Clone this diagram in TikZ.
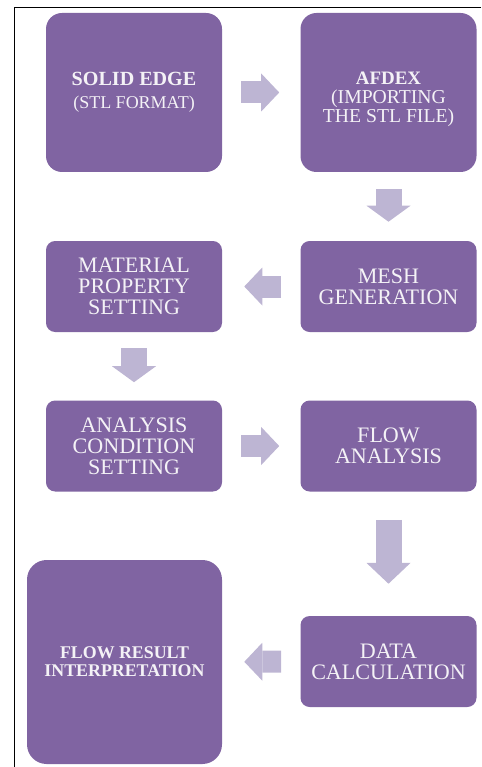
\documentclass[tikz,border=0pt]{standalone}
\usepackage{fontspec}
\setmainfont{Liberation Serif}
\usetikzlibrary{arrows.meta,positioning,calc}
\definecolor{boxpurple}{HTML}{8064A2}
\definecolor{arrlilac}{HTML}{BDB5D3}
\definecolor{boxtext}{HTML}{F4F2F6}

\begin{document}
\begin{tikzpicture}[
  proc/.style={fill=boxpurple, rounded corners=0.23cm, text=boxtext,
    minimum width=4.4cm, minimum height=2.275cm, inner sep=0pt,
    font=\fontsize{15.7}{14.9}\selectfont, align=center},
  arr/.style={draw=arrlilac, line width=0.55cm,
    -{Triangle[length=0.45cm, width=0.95cm, line width=0pt]}},
  varr/.style={draw=arrlilac, line width=0.65cm,
    -{Triangle[length=0.4cm, width=1.1cm, line width=0pt]}},
]
\useasboundingbox (0,0) rectangle (12.025,-19.175);

%% Frame
\draw[line width=1.1pt] (12.025,-0.1875) -- (0.3625,-0.1875) -- (0.3625,-19.175);

%% Row 1
\node[proc, minimum height=3.975cm, rounded corners=0.4cm,
  font=\fontsize{12.8}{15}\selectfont] (solid) at (3.35,-2.3125)
  {{\fontsize{14.3}{15}\selectfont\bfseries SOLID EDGE}\\[1pt] (STL FORMAT)};
\node[proc, minimum height=3.975cm, rounded corners=0.4cm,
  font=\fontsize{14}{13.6}\selectfont] (afdex) at (9.7125,-2.3125)
  {\rule{0pt}{19pt}{\fontsize{13.5}{13.6}\selectfont\bfseries AFDEX}\\(IMPORTING\\THE STL FILE)};

%% Row 2
\node[proc] (mesh) at (9.7125,-7.1625) {MESH\\GENERATION};
\node[proc] (material) at (3.35,-7.1625) {MATERIAL\\PROPERTY\\SETTING};

%% Row 3
\node[proc] (condition) at (3.35,-11.15) {ANALYSIS\\CONDITION\\SETTING};
\node[proc] (flow) at (9.7125,-11.15) {FLOW\\ANALYSIS};

%% Row 4
\node[proc] (data) at (9.7125,-16.5375) {DATA\\CALCULATION};
\node[proc, minimum width=4.875cm, minimum height=5.1cm, rounded corners=0.49cm,
  font=\fontsize{12.7}{12.9}\selectfont\bfseries] (result) at (3.1125,-16.55)
  {FLOW RESULT\\INTERPRETATION};

%% Block arrows
\draw[arr, shorten <=0.475cm, shorten >=0.525cm] (solid) -- (afdex);
\draw[varr, shorten <=0.425cm, shorten >=0.475cm] (afdex) -- (mesh);
\draw[arr, shorten <=0.475cm, shorten >=0.55cm] (mesh) -- (material);
\draw[varr, shorten <=0.4cm, shorten >=0.45cm] (material) -- (condition);
\draw[arr, shorten <=0.475cm, shorten >=0.525cm] (condition) -- (flow);
\draw[varr, -{Triangle[length=0.52cm, width=1.1cm, line width=0pt]},
  shorten <=0.7cm, shorten >=0.8cm] (flow) -- (data);
\draw[arr, shorten <=0.475cm, shorten >=0.55cm] (data) -- (result);

\end{tikzpicture}
\end{document}
